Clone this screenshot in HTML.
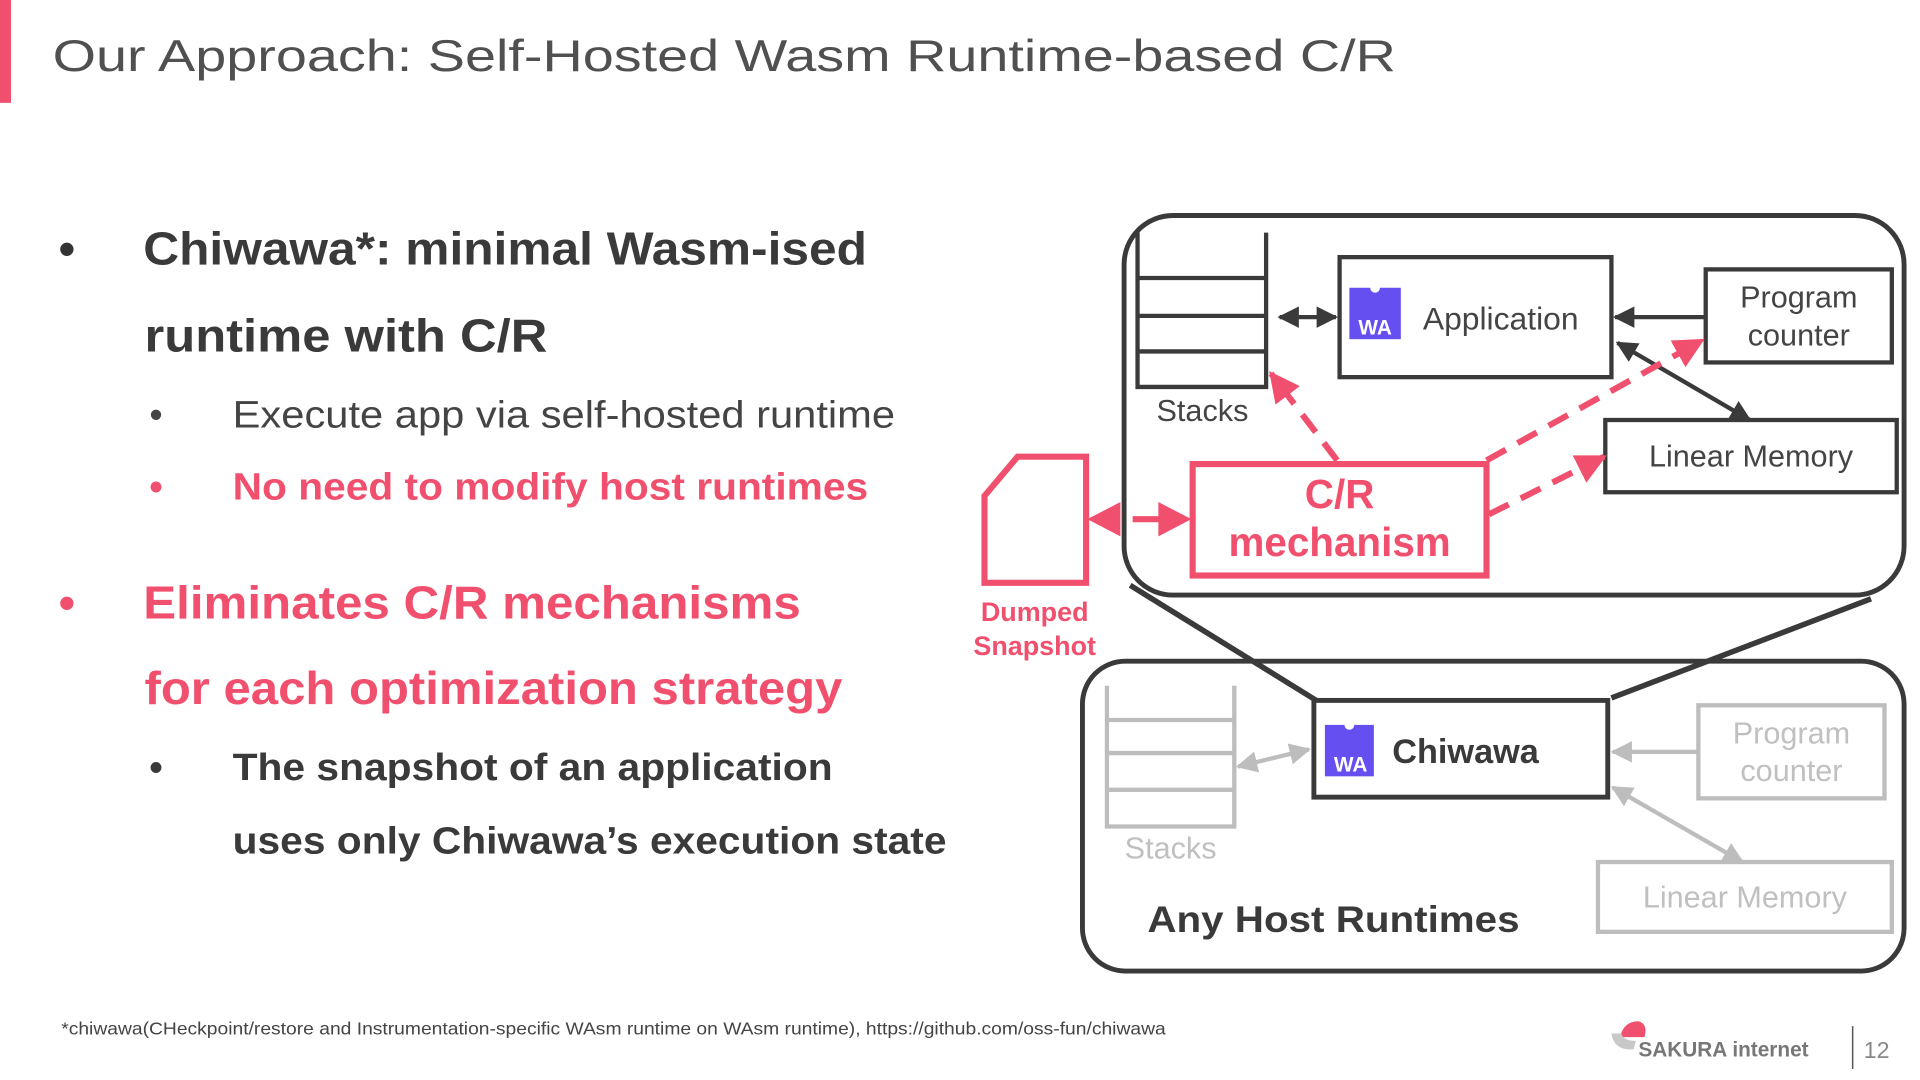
<!DOCTYPE html>
<html><head><meta charset="utf-8"><style>
html,body{margin:0;padding:0;background:#fff;width:1920px;height:1080px;overflow:hidden}
svg{display:block}
text{font-family:"Liberation Sans",sans-serif}
</style></head><body>
<svg width="1920" height="1080" viewBox="0 0 1568 882" xmlns="http://www.w3.org/2000/svg">
<defs>
<marker id="ad" viewBox="0 0 10 10" refX="9" refY="5" markerWidth="5" markerHeight="5" orient="auto-start-reverse"><path d="M0,0L10,5L0,10z" fill="#3a3a3a"/></marker>
<marker id="ag" viewBox="0 0 10 10" refX="9" refY="5" markerWidth="5" markerHeight="5" orient="auto-start-reverse"><path d="M0,0L10,5L0,10z" fill="#bdbdbd"/></marker>
<marker id="ap" viewBox="0 0 10 10" refX="9" refY="5" markerWidth="5" markerHeight="5" orient="auto-start-reverse"><path d="M0,0L10,5L0,10z" fill="#f0506e"/></marker>
</defs>
<rect x="0" y="0" width="9" height="84" fill="#f0506e"/>
<text x="43" y="58" font-size="36" fill="#505050" textLength="1097" lengthAdjust="spacingAndGlyphs">Our Approach: Self-Hosted Wasm Runtime-based C/R</text>

<g font-weight="bold" font-size="38">
<text x="48" y="216" fill="#333">•</text>
<text x="117" y="216" fill="#3a3a3a" textLength="591" lengthAdjust="spacingAndGlyphs">Chiwawa*: minimal Wasm-ised</text>
<text x="118" y="287" fill="#3a3a3a" textLength="329" lengthAdjust="spacingAndGlyphs">runtime with C/R</text>
<text x="48" y="505" fill="#f0506e">•</text>
<text x="117" y="505" fill="#f0506e" textLength="537" lengthAdjust="spacingAndGlyphs">Eliminates C/R mechanisms</text>
<text x="118" y="575" fill="#f0506e" textLength="570" lengthAdjust="spacingAndGlyphs">for each optimization strategy</text>
</g>
<g font-size="31">
<text x="122" y="349" fill="#444">•</text>
<text x="190" y="349" fill="#444" textLength="541" lengthAdjust="spacingAndGlyphs">Execute app via self-hosted runtime</text>
<text x="122" y="408" fill="#f0506e" font-weight="bold">•</text>
<text x="190" y="408" fill="#f0506e" font-weight="bold" textLength="519" lengthAdjust="spacingAndGlyphs">No need to modify host runtimes</text>
<text x="122" y="637" fill="#3a3a3a" font-weight="bold">•</text>
<text x="190" y="637" fill="#3a3a3a" font-weight="bold" textLength="490" lengthAdjust="spacingAndGlyphs">The snapshot of an application</text>
<text x="190" y="697" fill="#3a3a3a" font-weight="bold" textLength="583" lengthAdjust="spacingAndGlyphs">uses only Chiwawa’s execution state</text>
</g>
<text x="50" y="845" font-size="14" fill="#444" textLength="902" lengthAdjust="spacingAndGlyphs">*chiwawa(CHeckpoint/restore and Instrumentation-specific WAsm runtime on WAsm runtime), https://github.com/oss-fun/chiwawa</text>

<!-- logo -->
<path d="M1323,847 Q1326,834 1338,834 Q1346,836 1343,847 Z" fill="#f0506e"/>
<path d="M1316,844 Q1318,858 1334,857 L1336,850 Q1326,850 1324,844 Z" fill="#c8c8c8"/>
<text x="1338" y="863" font-size="17" font-weight="bold" fill="#777">SAKURA internet</text>
<line x1="1513" y1="838" x2="1513" y2="873" stroke="#555" stroke-width="1.2"/>
<text x="1522" y="864" font-size="19" fill="#888">12</text>

<!-- upper box -->
<rect x="918" y="176" width="637" height="310" rx="40" fill="none" stroke="#3a3a3a" stroke-width="4"/>
<g stroke="#3a3a3a" stroke-width="3.5" fill="none">
<path d="M929,190V316H1034V190"/>
<line x1="929" y1="227" x2="1034" y2="227"/><line x1="929" y1="258" x2="1034" y2="258"/><line x1="929" y1="287" x2="1034" y2="287"/>
<rect x="1094" y="210" width="222" height="98"/>
<rect x="1393" y="220" width="152" height="76"/>
<rect x="1311" y="343" width="238" height="59"/>
<line x1="1045" y1="259" x2="1091" y2="259" marker-start="url(#ad)" marker-end="url(#ad)"/>
<line x1="1392" y1="259" x2="1319" y2="259" marker-end="url(#ad)"/>
<line x1="1321" y1="280" x2="1429" y2="343" marker-start="url(#ad)" marker-end="url(#ad)"/>
<line x1="923" y1="478" x2="1075" y2="572" stroke-width="4.5"/>
<line x1="1528" y1="489" x2="1316" y2="570" stroke-width="4.5"/>
</g>
<text x="982" y="344" font-size="25" fill="#444" text-anchor="middle">Stacks</text>
<rect x="1102" y="235" width="42" height="42" fill="#654ff0"/><circle cx="1123" cy="235" r="4" fill="#fff"/>
<text x="1123" y="273" font-size="17" font-weight="bold" fill="#fff" text-anchor="middle">WA</text>
<text x="1162" y="269" font-size="26" fill="#444">Application</text>
<text x="1469" y="251" font-size="25" fill="#444" text-anchor="middle">Program</text>
<text x="1469" y="282" font-size="25" fill="#444" text-anchor="middle">counter</text>
<text x="1430" y="381" font-size="25" fill="#444" text-anchor="middle">Linear Memory</text>

<!-- C/R -->
<rect x="974" y="379" width="240" height="91" fill="none" stroke="#f0506e" stroke-width="5"/>
<text x="1094" y="415" font-size="33" font-weight="bold" fill="#f0506e" text-anchor="middle">C/R</text>
<text x="1094" y="454" font-size="33" font-weight="bold" fill="#f0506e" text-anchor="middle">mechanism</text>
<g stroke="#f0506e" stroke-width="5" fill="none" stroke-dasharray="18,11">
<line x1="1092" y1="376" x2="1038" y2="305" marker-end="url(#ap)"/>
<line x1="1214" y1="376" x2="1390" y2="278" marker-end="url(#ap)"/>
<line x1="1216" y1="420" x2="1310" y2="373" marker-end="url(#ap)"/>
</g>
<path d="M804,405L831,373H887V476H804Z" fill="none" stroke="#f0506e" stroke-width="5"/>
<path d="M888,424L915,410V438Z" fill="#f0506e"/>
<path d="M973,424L946,410V438Z" fill="#f0506e"/>
<line x1="925" y1="424" x2="948" y2="424" stroke="#f0506e" stroke-width="5"/>
<text x="845" y="507" font-size="22" font-weight="bold" fill="#f0506e" text-anchor="middle">Dumped</text>
<text x="845" y="535" font-size="22" font-weight="bold" fill="#f0506e" text-anchor="middle">Snapshot</text>

<!-- lower box -->
<rect x="884" y="540" width="671" height="253" rx="35" fill="none" stroke="#3a3a3a" stroke-width="4"/>
<g stroke="#bdbdbd" stroke-width="3.5" fill="none">
<path d="M904,560V675H1008V560"/>
<line x1="904" y1="588" x2="1008" y2="588"/><line x1="904" y1="615" x2="1008" y2="615"/><line x1="904" y1="645" x2="1008" y2="645"/>
<rect x="1387" y="576" width="152" height="76"/>
<rect x="1305" y="704" width="240" height="57"/>
<line x1="1011" y1="626" x2="1069" y2="612" marker-start="url(#ag)" marker-end="url(#ag)"/>
<line x1="1386" y1="614" x2="1317" y2="614" marker-end="url(#ag)"/>
<line x1="1317" y1="643" x2="1423" y2="704" marker-start="url(#ag)" marker-end="url(#ag)"/>
</g>
<rect x="1073" y="572" width="240" height="79" fill="#fff" stroke="#3a3a3a" stroke-width="4"/>
<rect x="1082" y="592" width="40" height="42" fill="#654ff0"/><circle cx="1102" cy="592" r="4" fill="#fff"/>
<text x="1103" y="630" font-size="17" font-weight="bold" fill="#fff" text-anchor="middle">WA</text>
<text x="1137" y="623" font-size="28" font-weight="bold" fill="#3a3a3a">Chiwawa</text>
<text x="956" y="701" font-size="25" fill="#c0c0c0" text-anchor="middle">Stacks</text>
<text x="1463" y="607" font-size="25" fill="#c0c0c0" text-anchor="middle">Program</text>
<text x="1463" y="638" font-size="25" fill="#c0c0c0" text-anchor="middle">counter</text>
<text x="1425" y="741" font-size="25" fill="#c0c0c0" text-anchor="middle">Linear Memory</text>
<text x="937" y="761" font-size="30" font-weight="bold" fill="#3a3a3a" textLength="304" lengthAdjust="spacingAndGlyphs">Any Host Runtimes</text>
</svg>
</body></html>
